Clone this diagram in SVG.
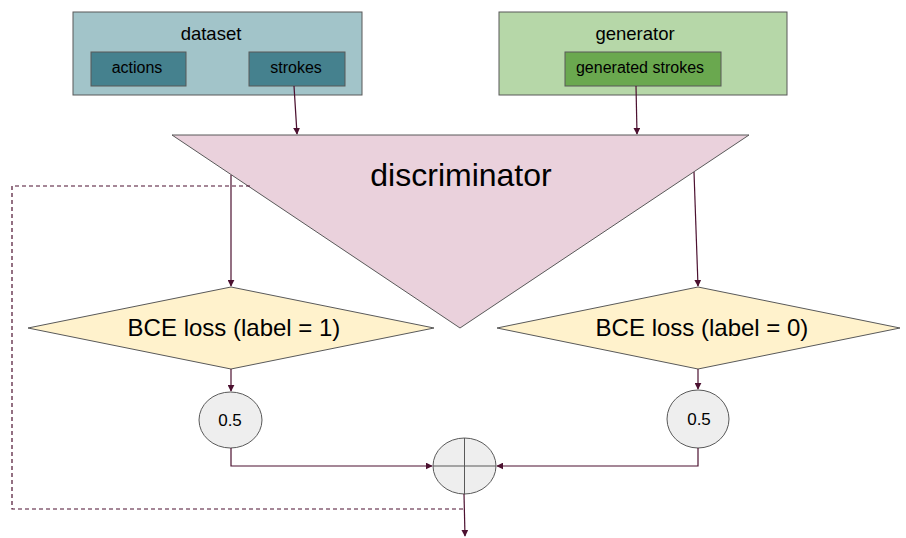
<svg xmlns="http://www.w3.org/2000/svg" width="906" height="538" viewBox="0 0 906 538">
<defs>
<style>
text{font-family:"Liberation Sans",Arial,sans-serif;fill:#000;text-anchor:middle}
.box{stroke:#595959;stroke-width:1}
.c{fill:none;stroke:#4c1130;stroke-width:1.2}
.d{fill:none;stroke:#4c1130;stroke-width:1.2;stroke-dasharray:4,3}
</style>
<marker id="ah" viewBox="0 0 10 10" refX="9" refY="5" markerWidth="7" markerHeight="7" orient="auto" markerUnits="userSpaceOnUse">
<path d="M0,0 L10,5 L0,10 z" fill="#4c1130"/>
</marker>
</defs>
<rect width="906" height="538" fill="#fff"/>
<g id="dataset">
<rect class="box" x="73" y="12" width="289" height="83" fill="#a2c4c9"/>
<text x="211" y="40" font-size="18.5">dataset</text>
</g>
<g id="actions">
<rect class="box" x="91" y="52" width="95" height="34" fill="#45818e"/>
<text x="137" y="73" font-size="16">actions</text>
</g>
<g id="strokes">
<rect class="box" x="249" y="52" width="96" height="34" fill="#45818e"/>
<text x="296" y="73" font-size="16">strokes</text>
</g>
<g id="generator">
<rect class="box" x="499" y="12" width="288" height="83" fill="#b6d7a8"/>
<text x="635" y="40" font-size="18.5">generator</text>
</g>
<g id="generated-strokes">
<rect class="box" x="565" y="52" width="156" height="34" fill="#6aa84f"/>
<text x="640" y="73" font-size="16">generated strokes</text>
</g>
<g id="discriminator">
<polygon class="box" points="172,135 749,135 460,328" fill="#ead1dc"/>
<text x="461" y="186" font-size="32">discriminator</text>
</g>
<g id="bce1">
<polygon class="box" points="28,328 231,287 434,328 231,369" fill="#fff2cc"/>
<text x="234" y="336" font-size="24">BCE loss (label = 1)</text>
</g>
<g id="bce0">
<polygon class="box" points="497,328 698,287 900,328 698,369" fill="#fff2cc"/>
<text x="702" y="336" font-size="24">BCE loss (label = 0)</text>
</g>
<g id="half1">
<ellipse class="box" cx="230.5" cy="420" rx="31.5" ry="28" fill="#eeeeee"/>
<text x="230" y="426" font-size="17">0.5</text>
</g>
<g id="half0">
<ellipse class="box" cx="698" cy="419" rx="31" ry="29" fill="#eeeeee"/>
<text x="699" y="425" font-size="17">0.5</text>
</g>
<g id="sum">
<ellipse class="box" cx="464.5" cy="466" rx="31.5" ry="28" fill="#eeeeee"/>
<line class="box" x1="433" y1="466" x2="496" y2="466"/>
<line class="box" x1="464.5" y1="438" x2="464.5" y2="494"/>
</g>
<g id="connectors">
<path class="c" d="M294,86 L297,134" marker-end="url(#ah)"/>
<path class="c" d="M636,86 L637,134" marker-end="url(#ah)"/>
<path class="c" d="M231,175 L231,286" marker-end="url(#ah)"/>
<path class="c" d="M694,172 L698,286" marker-end="url(#ah)"/>
<path class="c" d="M231,369 L231,391" marker-end="url(#ah)"/>
<path class="c" d="M698,369 L698,389" marker-end="url(#ah)"/>
<path class="c" d="M231,448 L231,466 L432,466" marker-end="url(#ah)"/>
<path class="c" d="M698,448 L698,466 L497,466" marker-end="url(#ah)"/>
<path class="c" d="M464,494 L465,536" marker-end="url(#ah)"/>
<path class="d" d="M250,186 L12,186 L12,509 L464,509"/>
</g>
</svg>
